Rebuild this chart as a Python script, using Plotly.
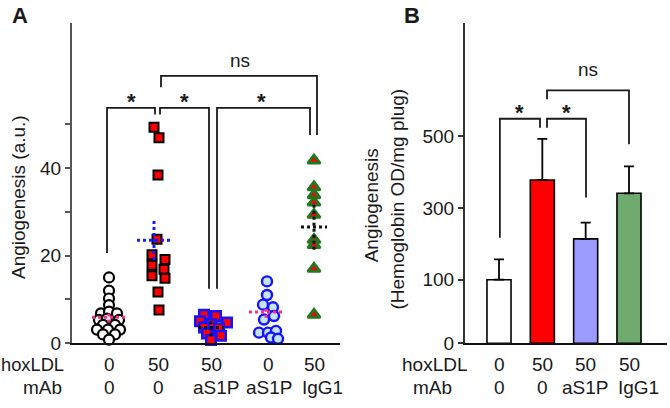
import plotly.graph_objects as go

# ---------------- data ----------------
# Panel A: individual values (a.u.) per group
HOX_A = ["0", "50", "50", "0", "50"]
MAB_A = ["0", "0", "aS1P", "aS1P", "IgG1"]
G1_VALS = [15.0, 12.0, 10.2, 8.7, 6.8, 7.2, 6.8, 5.3, 5.6, 5.3, 4.2, 4.2, 3.1, 3.1, 3.1, 2.0, 2.0, 0.8]
G2_VALS = [49.3, 46.9, 38.4, 23.7, 20.2, 19.1, 17.8, 16.9, 15.4, 14.8, 11.7, 7.6]
G3_VALS = [6.5, 6.2, 5.0, 4.7, 4.3, 3.6, 3.4, 2.2, 1.7, 0.7]
G4_VALS = [14.1, 11.0, 8.8, 8.2, 6.2, 5.4, 2.4, 2.4, 2.8, 1.3, 1.0]
G5_VALS = [41.7, 35.6, 33.8, 32.1, 29.3, 23.6, 22.4, 17.0, 6.5]
MEAN_A = [5.9, 23.5, 3.6, 7.1, 26.5]
SEM_A = [1.2, 4.5, 2.0, 1.3, 5.2]
YTICKS_A = [0, 10, 20, 30, 40, 50]
YTICKTEXT_A = ["0", "", "20", "", "40", ""]

# Panel B: bar means and upper error
HOX_B = ["0", "50", "50", "50"]
MAB_B = ["0", "0", "aS1P", "IgG1"]
BAR_MEAN = [100, 378, 214, 341]
BAR_ERR = [57, 115, 45, 75]
YTICKS_B = [100, 300, 500]

# ---------------- layout / style constants ----------------
W, H = 670, 408
FONT = "Liberation Sans, Arial, sans-serif"
TXT = "#1a1a1a"
# panel A x axis in pixel-like units measured from the y axis
A_CENTERS = [37, 86, 139, 196, 242]
# swarm offsets (px) of each point
JIT1 = [0, 0, 0, 0, -8, 0, 8, -10, -2, 10, -6, 6, -12, -1, 11, -6, 6, 0]
JIT2 = [-4, 1, 0, -1, -6, 7, -6, 6, -6, 7, 0, 1]
JIT3 = [-7, 5, -11, 16, 0, -7, 8, -4, 10, 0]
JIT4 = [-1, -1, -5, 5, 6, -4, -9, 0, 8, 3, 10]
JIT5 = [0, 0, 0, 0, 0, 0, 0, 0, 0]
MEAN_SHIFT = [0, -4, 0, -2, 0]
MEAN_HALF = [17, 17, 13, 17, 13]
MEAN_COL = ["#ff2a8a", "#1a1aff", "#111111", "#ff2a8a", "#111111"]
MAB_A_SHIFT = [0, 0, 5, 1, 8]        # px
B_PX_PER_UNIT = 43.33
MAB_B_SHIFT = [0, 0, -1, 9]          # px
B_FLOOR = -77   # the B axis baseline (labelled 0) sits below the 100 tick by this amount
BAR_COLORS = ["#ffffff", "#ff0000", "#9b9bff", "#6fab6f"]

fig = go.Figure()

groups = [
    (G1_VALS, JIT1, dict(symbol="circle", size=10, color="#ffffff", line=dict(color="#000000", width=2.2))),
    (G2_VALS, JIT2, dict(symbol="square", size=9, color="#ff0000", line=dict(color="#000000", width=2))),
    (G3_VALS, JIT3, dict(symbol="square", size=9.5, color="#ff0000", line=dict(color="#1414ff", width=2.5))),
    (G4_VALS, JIT4, dict(symbol="circle", size=10, color="#c4e4ff", line=dict(color="#1414ff", width=2.4))),
    (G5_VALS, JIT5, dict(symbol="triangle-up", size=11, color="#e01010", line=dict(color="#1e7a1e", width=2.6))),
]
for gi, (vals, jit, mk) in enumerate(groups):
    fig.add_trace(go.Scatter(
        x=[A_CENTERS[gi] + j for j in jit], y=vals, mode="markers",
        marker=mk, cliponaxis=False, showlegend=False, hoverinfo="skip",
        xaxis="x", yaxis="y"))

# mean (horizontal) and SEM (vertical) dotted lines
for gi in range(5):
    cx = A_CENTERS[gi] + MEAN_SHIFT[gi]
    fig.add_trace(go.Scatter(
        x=[cx - MEAN_HALF[gi], cx + MEAN_HALF[gi]], y=[MEAN_A[gi], MEAN_A[gi]],
        mode="lines", line=dict(color=MEAN_COL[gi], width=3, dash="3px,3px"),
        showlegend=False, hoverinfo="skip", xaxis="x", yaxis="y", cliponaxis=False))
    fig.add_trace(go.Scatter(
        x=[cx, cx], y=[MEAN_A[gi] - SEM_A[gi], MEAN_A[gi] + SEM_A[gi]],
        mode="lines", line=dict(color=MEAN_COL[gi], width=3, dash="3px,3px"),
        showlegend=False, hoverinfo="skip", xaxis="x", yaxis="y", cliponaxis=False))

# Panel B bars
B_POS = [1, 2, 3, 4]
fig.add_trace(go.Bar(
    x=B_POS, y=[v - B_FLOOR for v in BAR_MEAN], base=B_FLOOR, width=0.555,
    marker=dict(color=BAR_COLORS, line=dict(color="#000000", width=1.6)),
    error_y=dict(type="data", array=BAR_ERR, arrayminus=[0] * 4, symmetric=False,
                 color="#000000", thickness=1.8, width=5),
    showlegend=False, hoverinfo="skip", xaxis="x2", yaxis="y2"))

# ---------------- brackets ----------------
shapes = []
def bracket(xref, yref, xl, yl, ytop, xr, yr):
    shapes.append(dict(type="path", xref=xref, yref=yref,
                       path=f"M {xl},{yl} L {xl},{ytop} L {xr},{ytop} L {xr},{yr}",
                       line=dict(color="#1a1a1a", width=1.8)))

bracket("x", "y", 35, 20.6, 53.7, 83, 52.2)
bracket("x", "y", 88, 52.2, 53.7, 137, 12.4)
bracket("x", "y", 145, 12.4, 53.7, 238, 47.5)
bracket("x", "y", 89, 58.4, 61.0, 245, 47.5)
bracket("x2", "y2", 1.02, 217, 549, 1.946, 524)
bracket("x2", "y2", 2.108, 524, 549, 3.008, 329)
bracket("x2", "y2", 2.108, 603, 628, 4.0, 478)

ann = []
def txt(x, y, t, xref="paper", yref="paper", size=19, **kw):
    d = dict(x=x, y=y, xref=xref, yref=yref, text=t, showarrow=False,
             xanchor="center", yanchor="middle",
             font=dict(family=FONT, size=size, color=TXT))
    d.update(kw)
    ann.append(d)

# stars / ns
for xs in [59, 112.5, 189]:
    txt(xs, 55.2, "<b>*</b>", "x", "y", size=22)
txt(168, 64.6, "ns", "x", "y")
for xs in [1.48, 2.56]:
    txt(xs, 566, "<b>*</b>", "x2", "y2", size=22)
txt(3.06, 686, "ns", "x2", "y2")

# category labels
ROW1 = 1 - 375 / H
ROW2 = 1 - 398 / H
for i in range(5):
    txt(A_CENTERS[i], ROW1, HOX_A[i], "x", "paper")
    txt(A_CENTERS[i] + MAB_A_SHIFT[i], ROW2, MAB_A[i], "x", "paper")
for i in range(4):
    txt(B_POS[i], ROW1, HOX_B[i], "x2", "paper")
    txt(B_POS[i] + MAB_B_SHIFT[i] / B_PX_PER_UNIT, ROW2, MAB_B[i], "x2", "paper")
txt(66 / W, ROW1, "hoxLDL", xanchor="right", size=18.3)
txt(64 / W, ROW2, "mAb", xanchor="right")
txt(435 / W, ROW1, "hoxLDL")
txt(433 / W, ROW2, "mAb")

# panel letters
txt(20 / W, 1 - 16 / H, "<b>A</b>", size=22)
txt(412 / W, 1 - 15.5 / H, "<b>B</b>", size=22)

# y titles
txt(18.5 / W, 1 - 203 / H, "Angiogenesis (a.u.)", textangle=-90)
txt(371 / W, 1 - 211 / H, "Angiogenesis", textangle=-90)
txt(397 / W, 1 - 204 / H, "(Hemoglobin OD/mg plug)", textangle=-90)

ydom = [1 - 352.7 / H, 1 - 24 / H]
axis_common = dict(showgrid=False, zeroline=False, fixedrange=True)
fig.update_layout(
    width=W, height=H, margin=dict(l=0, r=0, t=0, b=0),
    paper_bgcolor="white", plot_bgcolor="white",
    font=dict(family=FONT, size=19, color=TXT),
    xaxis=dict(domain=[72 / W, 340 / W], range=[0, 268], showline=True,
               linecolor="#111111", linewidth=2, showticklabels=False, ticks="",
               anchor="y", **axis_common),
    yaxis=dict(domain=ydom, range=[0, 73], showline=True, linecolor="#555555",
               linewidth=2, ticks="outside", ticklen=5, tickwidth=1.5, tickcolor="#555555",
               tickvals=YTICKS_A, ticktext=YTICKTEXT_A, anchor="x",
               tickfont=dict(family=FONT, size=19, color=TXT), **axis_common),
    xaxis2=dict(domain=[465 / W, 667 / W], range=[0.2154, 4.877], showline=True,
                linecolor="#111111", linewidth=2, showticklabels=False, ticks="",
                anchor="y2", **axis_common),
    yaxis2=dict(domain=ydom, range=[B_FLOOR, 815], showline=True, linecolor="#333333",
                linewidth=2, ticks="outside", ticklen=5, tickwidth=1.5, tickcolor="#333333",
                tickvals=[B_FLOOR] + YTICKS_B, ticktext=["0"] + [str(t) for t in YTICKS_B],
                anchor="x2", tickfont=dict(family=FONT, size=19, color=TXT), **axis_common),
    shapes=shapes, annotations=ann, bargap=0.4,
)

fig.write_html("out.html", config={"displayModeBar": False},
               post_script="document.body.style.margin='0';document.body.style.padding='0';")
